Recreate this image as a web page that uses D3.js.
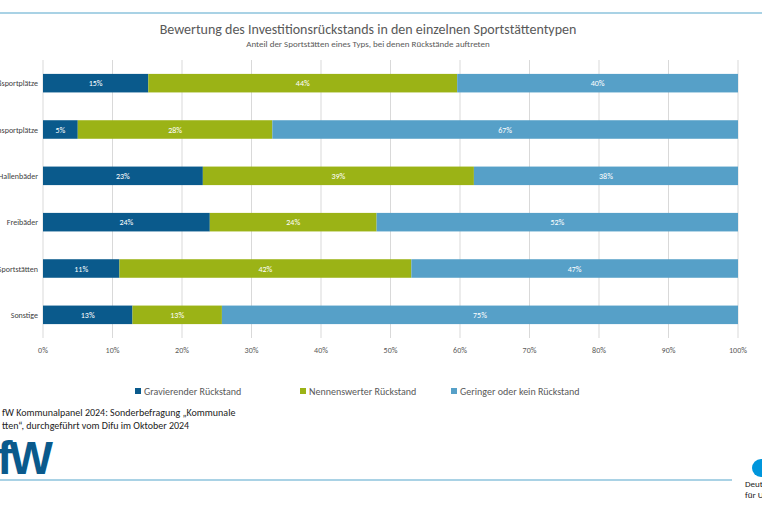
<!DOCTYPE html><html><head><meta charset="utf-8"><script src="https://cdn.jsdelivr.net/npm/d3@7"></script>
<style>body{margin:0;background:#fff}svg{font-family:Calibri,Carlito,"Open Sans",sans-serif}</style></head><body><svg id="c" width="762" height="508"></svg><script>
const categories=["Großsportplätze","Kleinsportplätze","Hallenbäder","Freibäder","Gedeckte Sportstätten","Sonstige"];
const gravierend=[15,5,23,24,11,13];
const nennenswert=[44,28,39,24,42,13];
const gering=[40,67,38,52,47,75];
const seriesNames=["Gravierender Rückstand","Nennenswerter Rückstand","Geringer oder kein Rückstand"];
const colors=["#0a5a8c","#9bb316","#56a0c8"];
const ticks=[0,10,20,30,40,50,60,70,80,90,100];
const svg=d3.select("#c");
const x=d3.scaleLinear().domain([0,100]).range([43,738]);
const y=d3.scaleBand().domain(categories).range([60,338]).paddingInner(0.6).paddingOuter(0.3);
svg.append("line").attr("x1",0).attr("x2",762).attr("y1",13).attr("y2",13).attr("stroke","#8cc3dc").attr("stroke-width",1.5);
svg.append("line").attr("x1",0).attr("x2",732).attr("y1",480).attr("y2",480).attr("stroke","#8cc3dc").attr("stroke-width",1.5);
svg.append("text").attr("x",368).attr("y",34).attr("text-anchor","middle").attr("font-size",14).attr("fill","#595959").text("Bewertung des Investitionsrückstands in den einzelnen Sportstättentypen");
svg.append("text").attr("x",368).attr("y",47).attr("text-anchor","middle").attr("font-size",9).attr("fill","#595959").text("Anteil der Sportstätten eines Typs, bei denen Rückstände auftreten");
const g=svg.append("g");
g.selectAll("line.grid").data(ticks).join("line").attr("x1",d=>x(d)).attr("x2",d=>x(d)).attr("y1",60).attr("y2",338).attr("stroke","#d9d9d9");
g.selectAll("text.tick").data(ticks).join("text").attr("x",d=>x(d)).attr("y",353).attr("text-anchor","middle").attr("font-size",8).attr("fill","#595959").text(d=>d+"%");
const data=[gravierend,nennenswert,gering];
categories.forEach((c,i)=>{let acc=0;const tot=data.reduce((s,a)=>s+a[i],0);data.forEach((s,k)=>{const v=s[i]*100/tot;
 g.append("rect").attr("x",x(acc)).attr("width",x(acc+v)-x(acc)).attr("y",y(c)).attr("height",y.bandwidth()).attr("fill",colors[k]);
 g.append("text").attr("x",x(acc+v/2)).attr("y",y(c)+y.bandwidth()/2+3).attr("text-anchor","middle").attr("font-size",8).attr("fill","#fff").text(s[i]+"%");
 acc+=v;});
 g.append("text").attr("x",38).attr("y",y(c)+y.bandwidth()/2+3).attr("text-anchor","end").attr("font-size",8).attr("fill","#404040").text(c);
});
const lx=[135,300,451];
seriesNames.forEach((n,k)=>{svg.append("rect").attr("x",lx[k]).attr("y",388).attr("width",6).attr("height",6).attr("fill",colors[k]);
 svg.append("text").attr("x",lx[k]+9).attr("y",395).attr("font-size",10).attr("fill","#595959").text(n);});
svg.append("text").attr("x",2).attr("y",416).attr("font-size",10).attr("fill","#222").text("fW Kommunalpanel 2024: Sonderbefragung „Kommunale");
svg.append("text").attr("x",2).attr("y",429).attr("font-size",10).attr("fill","#222").text("tten“, durchgeführt vom Difu im Oktober 2024");
svg.append("text").attr("x",50).attr("y",474).attr("text-anchor","end").attr("font-size",46).attr("font-weight","bold").attr("fill","#0a5a8c").attr("font-family","Liberation Sans, Arial").attr("letter-spacing",-3).text("KfW");
svg.append("circle").attr("cx",761).attr("cy",468).attr("r",9).attr("fill","#0096dc");
svg.append("text").attr("x",745).attr("y",487).attr("font-size",9).attr("fill","#222").text("Deutsches");
svg.append("text").attr("x",745).attr("y",498).attr("font-size",9).attr("fill","#222").text("für Urbanistik");
</script></body></html>
